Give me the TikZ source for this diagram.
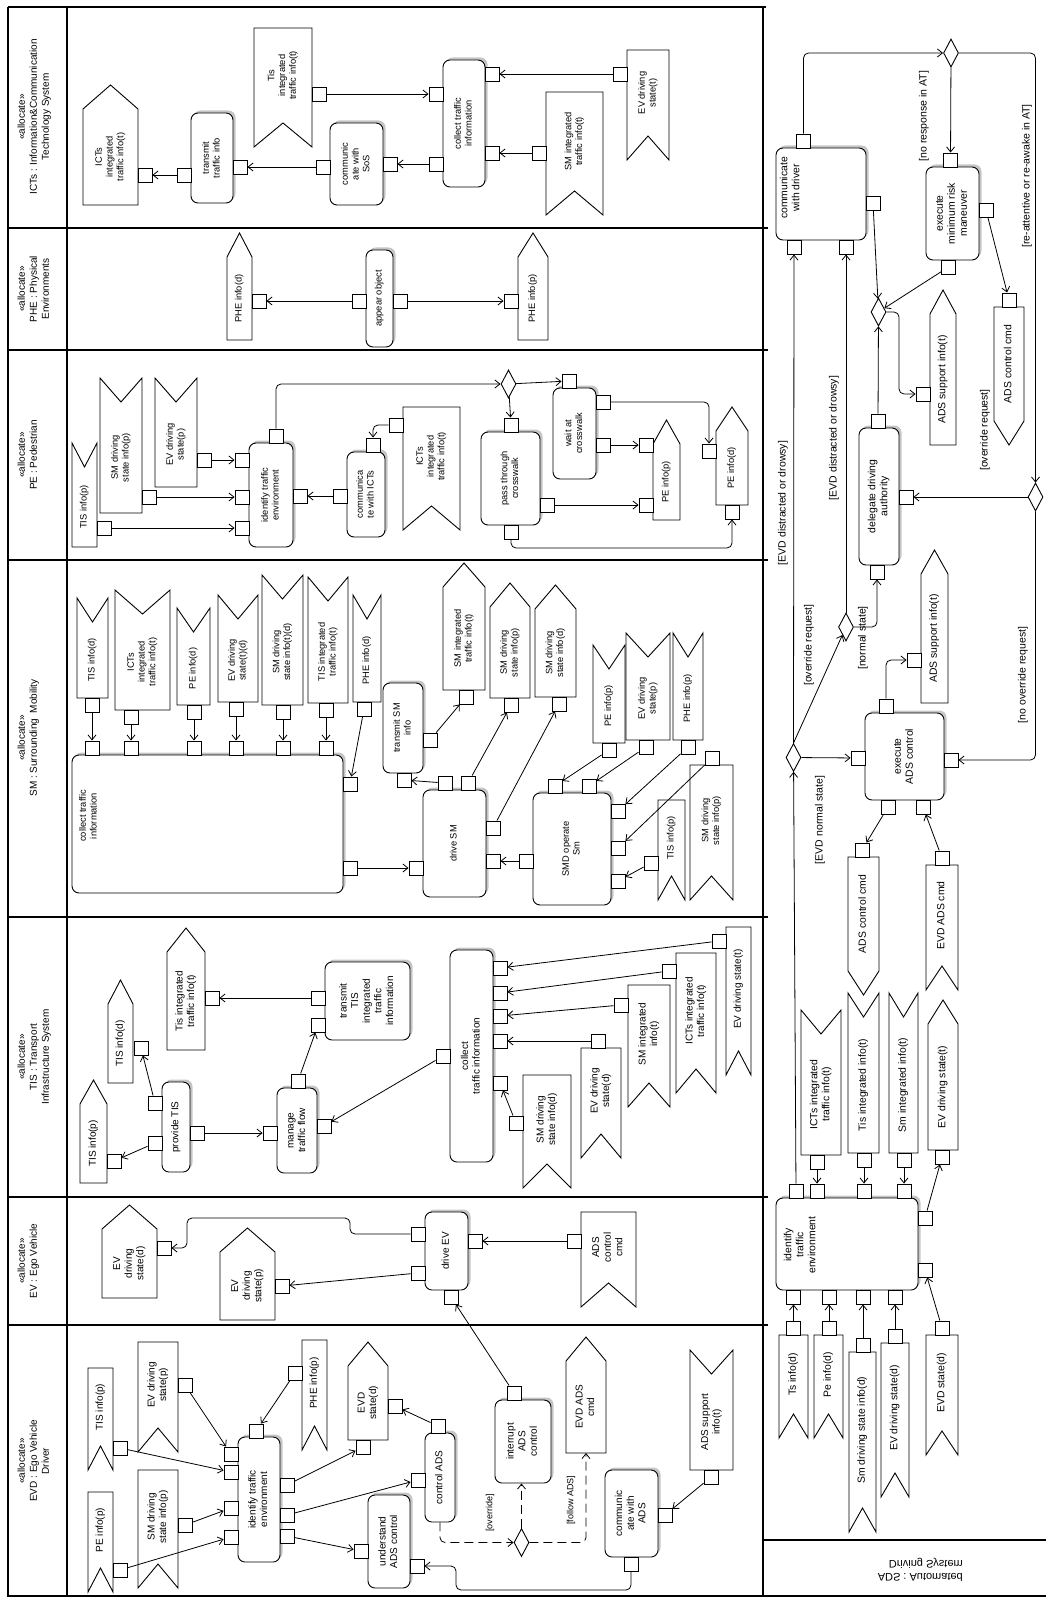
\documentclass[tikz,border=0pt]{standalone}
\usepackage{fontspec}
\setmainfont{Liberation Sans}
\usepackage{graphicx}
\usetikzlibrary{arrows.meta,shapes.geometric,shadows}

\newcommand\objd{24}
\newcommand\tf{\fontsize{9.3}{10.8}\selectfont}
\newcommand\rt[1]{\rotatebox{90}{\begin{tabular}{@{}c@{}}#1\end{tabular}}}
% object nodes: name, x1, y1, x2, y2, text
\newcommand\objPU[6]{%
  \draw[objline] (#2,#5) -- (#2,#3+\objd) -- ({(#2+#4)/2},#3) -- (#4,#3+\objd) -- (#4,#5) -- cycle;
  \node[otext] (#1) at ({(#2+#4)/2},{(#3+\objd+#5)/2}) {\rt{#6}};}
\newcommand\objPD[6]{%
  \draw[objline] (#2,#3) -- (#4,#3) -- (#4,#5-\objd) -- ({(#2+#4)/2},#5) -- (#2,#5-\objd) -- cycle;
  \node[otext] (#1) at ({(#2+#4)/2},{(#3+#5-\objd)/2}) {\rt{#6}};}
\newcommand\objND[6]{%
  \draw[objline] (#2,#3) -- (#4,#3) -- (#4,#5) -- ({(#2+#4)/2},#5-\objd) -- (#2,#5) -- cycle;
  \node[otext] (#1) at ({(#2+#4)/2},{(#3+#5-\objd)/2}) {\rt{#6}};}
\newcommand\objNU[6]{%
  \draw[objline] (#2,#3) -- ({(#2+#4)/2},#3+\objd) -- (#4,#3) -- (#4,#5) -- (#2,#5) -- cycle;
  \node[otext] (#1) at ({(#2+#4)/2},{(#3+\objd+#5)/2}) {\rt{#6}};}
% action: name, x1, y1, x2, y2, text
\newcommand\act[6]{%
  \node[actbox, minimum width={#4-#2}, minimum height={#5-#3}] (#1) at ({(#2+#4)/2},{(#3+#5)/2}) {\rt{#6}};}

\tikzset{
  lane/.style={line width=1.6pt},
  actbox/.style={draw, fill=white, rounded corners=7pt, line width=0.9pt, inner sep=1pt, font=\tf,
    drop shadow={shadow xshift=2.5pt, shadow yshift=2.5pt, fill=black!45, opacity=0.5}},
  objline/.style={draw, fill=white, line width=0.9pt},
  otext/.style={inner sep=0pt, font=\tf},
  pinbox/.style={draw, fill=white, line width=0.9pt, minimum size=14pt, inner sep=0pt},
  decision/.style={draw, fill=white, diamond, line width=0.9pt, minimum width=15pt, minimum height=28pt, inner sep=0pt},
  flow/.style={line width=0.8pt, -{Straight Barb[length=5pt,width=8pt]}},
  dflow/.style={flow, dash pattern=on 9pt off 5pt},
  guard/.style={rotate=90, font=\fontsize{10.5}{12.5}\selectfont, inner sep=1pt},
  lanehead/.style={rotate=90, anchor=north, align=center, font=\fontsize{10}{12}\selectfont},
}

\begin{document}
\begin{tikzpicture}[x=1pt,y=-1pt]
  \useasboundingbox (0,0) rectangle (1046,1597);
  % swimlanes
  \draw[lane] (8,7) -- (766,7);
  \draw[lane] (8,7) -- (8,1596) -- (1046,1596);
  \draw[lane] (67,7) -- (67,1596);
  \draw[lane] (763,7) -- (763,1596);
  \foreach \y in {228,350,560,917,1197,1325} \draw[lane] (8,\y) -- (768,\y);
  \draw[lane] (763,1540) -- (1046,1540);
  \node[lanehead] (hICT) at (14,117) {«allocate»\\ICTs : Information\&Communication\\Technology System};
  \node[lanehead] (hPHE) at (14,289) {«allocate»\\PHE : Physical\\Environments};
  \node[lanehead] (hPE) at (14,455) {«allocate»\\PE : Pedestrian};
  \node[lanehead] (hSM) at (14,738) {«allocate»\\SM : Surrounding\ \ Mobility};
  \node[lanehead] (hTIS) at (14,1057) {«allocate»\\TIS : Transport\\Infrastructure System};
  \node[lanehead] (hEV) at (14,1261) {«allocate»\\EV : Ego Vehicle};
  \node[lanehead] (hEVD) at (14,1461) {«allocate»\\EVD : Ego Vehicle\\Driver};
  \node[font=\fontsize{11}{13}\selectfont, anchor=east, inner sep=0pt] (hADS) at (963,1570)
    {\scalebox{1}[-1]{\begin{tabular}{@{}r@{}}ADS : Automated\\Driving System\end{tabular}}};

  % ICTs lane
  \objPU{ictsO}{83}{85}{138}{205}{ICTs\\integrated\\traffic info(t)}
  \act{ttiA}{191}{113}{233}{203}{transmit\\traffic info}
  \objND{tisO}{254}{28}{312}{147}{Tis\\integrated\\traffic info(t)}
  \act{cwsA}{330}{123}{383}{205}{communic\\ate with\\SoS}
  \act{ctiA}{443}{60}{485}{187}{collect traffic\\information}
  \objND{smiO}{546}{92}{603}{215}{SM integrated\\traffic info(t)}
  \objND{evtO}{627}{50}{669}{160}{EV driving\\state(t)}
  \node[pinbox] (ictsP) at (145,175) {};
  \node[pinbox] (ttiL) at (184,175) {};
  \node[pinbox] (ttiR) at (240,167) {};
  \node[pinbox] (tisP) at (319,94) {};
  \node[pinbox] (cwsL) at (323,167) {};
  \node[pinbox] (cwsR) at (390,164) {};
  \node[pinbox] (ctiL1) at (436,94) {};
  \node[pinbox] (ctiL2) at (436,164) {};
  \node[pinbox] (ctiR1) at (492,74) {};
  \node[pinbox] (ctiR2) at (492,153) {};
  \node[pinbox] (smiP) at (539,153) {};
  \node[pinbox] (evtP) at (620,74) {};
  \draw[flow] (ttiL) -- (ictsP);
  \draw[flow] (cwsL) -- (ttiR);
  \draw[flow] (tisP) -- (ctiL1);
  \draw[flow] (ctiL2) -- (cwsR);
  \draw[flow] (smiP) -- (ctiR2);
  \draw[flow] (evtP) -- (ctiR1);

  % PHE lane
  \objPU{phedO}{227}{233}{252}{340}{PHE info(d)}
  \act{apoA}{366}{250}{393}{347}{appear object}
  \objPU{phepO}{518}{233}{548}{340}{PHE info(p)}
  \node[pinbox] (phedP) at (259,301) {};
  \node[pinbox] (apoL) at (359,301) {};
  \node[pinbox] (apoR) at (400,301) {};
  \node[pinbox] (phepP) at (511,301) {};
  \draw[flow] (apoL) -- (phedP);
  \draw[flow] (apoR) -- (phepP);

  % PE lane
  \objNU{tispeO}{72}{443}{97}{547}{TIS info(p)}
  \objNU{smpeO}{100}{378}{142}{513}{SM driving\\state info(p)}
  \objNU{evpeO}{155}{378}{197}{487}{EV driving\\state(p)}
  \act{itepA}{249}{443}{293}{547}{identify traffic\\environment}
  \act{cwiA}{347}{452}{385}{537}{communica\\te with ICTs}
  \objND{ictpeO}{403}{407}{460}{530}{ICTs\\integrated\\traffic info(t)}
  \node[decision] (dPE) at (508.5,384) {};
  \act{ptcA}{481}{432}{540}{525}{pass through\\crosswalk}
  \act{wacA}{553}{388}{596}{479}{wait at\\crosswalk}
  \objPU{pepO}{653}{420}{680}{520}{PE info(p)}
  \objPU{pedO}{716}{407}{748}{505}{PE info(d)}
  \node[pinbox] (tispeP) at (104,528) {};
  \node[pinbox] (smpeP) at (149,497) {};
  \node[pinbox] (evpeP) at (204,460) {};
  \node[pinbox] (itepL1) at (242,460) {};
  \node[pinbox] (itepL2) at (242,497) {};
  \node[pinbox] (itepL3) at (242,528) {};
  \node[pinbox] (itepT) at (276,436) {};
  \node[pinbox] (itepR) at (300,496) {};
  \node[pinbox] (cwiL) at (340,496) {};
  \node[pinbox] (cwiT) at (373,445) {};
  \node[pinbox] (ictpeP) at (396,425) {};
  \node[pinbox] (ptcT) at (511,425) {};
  \node[pinbox] (ptcR) at (547,505) {};
  \node[pinbox] (ptcB) at (511,532) {};
  \node[pinbox] (wacT) at (569,381) {};
  \node[pinbox] (wacR1) at (603,402) {};
  \node[pinbox] (wacR2) at (603,445) {};
  \node[pinbox] (pepP1) at (646,445) {};
  \node[pinbox] (pepP2) at (646,505) {};
  \node[pinbox] (pedL) at (709,451) {};
  \node[pinbox] (pedB) at (732,512) {};
  \draw[flow] (tispeP) -- (itepL3);
  \draw[flow] (smpeP) -- (itepL2);
  \draw[flow] (evpeP) -- (itepL1);
  \draw[flow] (cwiL) -- (itepR);
  \draw[flow,rounded corners=5pt] (ictpeP) -| (cwiT);
  \draw[flow,rounded corners=5pt] (itepT) |- (dPE);
  \draw[flow] (dPE) -- (wacT);
  \draw[flow] (dPE) -- (ptcT);
  \draw[flow] (ptcR) -- (pepP2);
  \draw[flow] (wacR2) -- (pepP1);
  \draw[flow,rounded corners=5pt] (wacR1) -| (pedL);
  \draw[flow,rounded corners=5pt] (ptcB) -- ++(0,16) -| (pedB);

  % SM lane
  \act{csmA}{72}{755}{343}{893}{}
  \node[otext] (csmX) at (89,816) {\rt{collect traffic\\information}};
  \objNU{tisdsO}{77}{598}{108}{698}{TIS info(d)}
  \objNU{ictsmO}{115}{590}{170}{710}{ICTs\\integrated\\traffic info(t)}
  \objNU{pedsO}{177}{608}{210}{705}{PE info(d)}
  \objNU{evtdsO}{218}{595}{258}{702}{EV driving\\state(t)(d)}
  \objNU{smtdsO}{262}{575}{303}{705}{SM driving\\state info(t)(d)}
  \objNU{tisisO}{308}{577}{348}{703}{TIS integrated\\traffic info(t)}
  \objNU{phedsO}{353}{595}{381}{702}{PHE info(d)}
  \act{tsmA}{383}{683}{423}{773}{transmit SM\\info}
  \objPU{smitO}{443}{563}{485}{690}{SM integrated\\traffic info(t)}
  \objPU{smdpO}{490}{583}{530}{698}{SM driving\\state info(p)}
  \objPU{smddO}{535}{585}{576}{697}{SM driving\\state info(d)}
  \act{dsmA}{423}{790}{486}{897}{drive SM}
  \act{smdA}{533}{793}{611}{905}{SMD operate\\Sm}
  \objNU{pesO}{593}{645}{625}{743}{PE info(p)}
  \objNU{evpsO}{626}{633}{670}{740}{EV driving\\state(p)}
  \objNU{phpsO}{673}{633}{703}{740}{PHE info(p)}
  \objND{tispsO}{658}{800}{685}{900}{TIS info(p)}
  \objND{smpsO}{690}{765}{733}{900}{SM driving\\state info(p)}
  \node[pinbox] (tisdsP) at (92,705) {};
  \node[pinbox] (ictsmP) at (131,717) {};
  \node[pinbox] (pedsP) at (194,712) {};
  \node[pinbox] (evtdsP) at (236,709) {};
  \node[pinbox] (smtdsP) at (283,712) {};
  \node[pinbox] (tisisP) at (326,710) {};
  \node[pinbox] (phedsP) at (364,709) {};
  \node[pinbox] (csmT1) at (92,748) {};
  \node[pinbox] (csmT2) at (131,748) {};
  \node[pinbox] (csmT3) at (194,748) {};
  \node[pinbox] (csmT4) at (236,748) {};
  \node[pinbox] (csmT5) at (283,748) {};
  \node[pinbox] (csmT6) at (326,748) {};
  \node[pinbox] (csmR1) at (350,784) {};
  \node[pinbox] (csmR2) at (350,868) {};
  \node[pinbox] (tsmR) at (430,740) {};
  \node[pinbox] (tsmB) at (404,780) {};
  \node[pinbox] (smitP) at (466,697) {};
  \node[pinbox] (smdpP) at (511,705) {};
  \node[pinbox] (smddP) at (559,704) {};
  \node[pinbox] (dsmT1) at (445,783) {};
  \node[pinbox] (dsmT2) at (468,783) {};
  \node[pinbox] (dsmL) at (416,868) {};
  \node[pinbox] (dsmR1) at (493,828) {};
  \node[pinbox] (dsmR2) at (493,861) {};
  \node[pinbox] (smdL) at (526,861) {};
  \node[pinbox] (smdT1) at (555,786) {};
  \node[pinbox] (smdT2) at (589,786) {};
  \node[pinbox] (smdR1) at (618,811) {};
  \node[pinbox] (smdR2) at (618,848) {};
  \node[pinbox] (smdR3) at (618,881) {};
  \node[pinbox] (pesP) at (609,750) {};
  \node[pinbox] (evpsP) at (646,747) {};
  \node[pinbox] (phpsP) at (688,747) {};
  \node[pinbox] (tispsP) at (651,863) {};
  \node[pinbox] (smpsP) at (712,758) {};
  \draw[flow] (tisdsP) -- (csmT1);
  \draw[flow] (ictsmP) -- (csmT2);
  \draw[flow] (pedsP) -- (csmT3);
  \draw[flow] (evtdsP) -- (csmT4);
  \draw[flow] (smtdsP) -- (csmT5);
  \draw[flow] (tisisP) -- (csmT6);
  \draw[flow] (phedsP) -- (csmR1);
  \draw[flow] (csmR2) -- (dsmL);
  \draw[flow] (dsmT1) -- (tsmB);
  \draw[flow] (tsmR) -- (smitP);
  \draw[flow] (dsmT2) -- (smdpP);
  \draw[flow] (dsmR1) -- (smddP);
  \draw[flow] (smdL) -- (dsmR2);
  \draw[flow] (pesP) -- (smdT1);
  \draw[flow] (evpsP) -- (smdT2);
  \draw[flow] (phpsP) -- (smdR1);
  \draw[flow] (smpsP) -- (smdR2);
  \draw[flow] (tispsP) -- (smdR3);

  % TIS lane
  \renewcommand\tf{\fontsize{10}{11.6}\selectfont}
  \objPU{tispO}{80}{1080}{107}{1183}{TIS info(p)}
  \objPU{tisdO}{108}{980}{133}{1083}{TIS info(d)}
  \act{ptisA}{162}{1082}{190}{1172}{provide TIS}
  \objPU{tisiO}{167}{928}{205}{1050}{Tis integrated\\traffic info(t)}
  \act{mtfA}{277}{1088}{317}{1173}{manage\\traffic flow}
  \act{ttisA}{325}{962}{410}{1040}{transmit\\TIS\\integrated\\traffic\\information}
  \act{ctisA}{450}{950}{493}{1162}{collect\\traffic information}
  \objND{smdtO}{523}{1075}{571}{1188}{SM driving\\state info(d)}
  \objND{evdtO}{581}{1048}{621}{1158}{EV driving\\state(d)}
  \objND{smitT}{628}{985}{670}{1107}{SM integrated\\info(t)}
  \objND{icttO}{676}{953}{716}{1093}{ICTs integrated\\traffic info(t)}
  \objND{evttO}{726}{927}{751}{1075}{EV driving state(t)}
  \node[pinbox] (tispP) at (114,1161) {};
  \node[pinbox] (tisdP) at (141,1048) {};
  \node[pinbox] (ptisL1) at (155,1103) {};
  \node[pinbox] (ptisL2) at (155,1143) {};
  \node[pinbox] (ptisR) at (197,1133) {};
  \node[pinbox] (tisiP) at (212,998) {};
  \node[pinbox] (mtfL) at (270,1133) {};
  \node[pinbox] (mtfT) at (298,1081) {};
  \node[pinbox] (mtfR) at (324,1126) {};
  \node[pinbox] (ttisL1) at (318,998) {};
  \node[pinbox] (ttisL2) at (318,1025) {};
  \node[pinbox] (ctisL) at (443,1056) {};
  \node[pinbox] (ctisR1) at (500,968) {};
  \node[pinbox] (ctisR2) at (500,993) {};
  \node[pinbox] (ctisR3) at (500,1016) {};
  \node[pinbox] (ctisR4) at (500,1041) {};
  \node[pinbox] (ctisR5) at (500,1083) {};
  \node[pinbox] (smdtP) at (516,1123) {};
  \node[pinbox] (evdtP) at (598,1041) {};
  \node[pinbox] (smitTP) at (621,1005) {};
  \node[pinbox] (icttP) at (669,971) {};
  \node[pinbox] (evttP) at (719,941) {};
  \draw[flow] (ptisL2) -- (tispP);
  \draw[flow] (ptisL1) -- (tisdP);
  \draw[flow] (ptisR) -- (mtfL);
  \draw[flow] (ttisL1) -- (tisiP);
  \draw[flow] (mtfT) -- (ttisL2);
  \draw[flow] (ctisL) -- (mtfR);
  \draw[flow] (smdtP) -- (ctisR5);
  \draw[flow] (evdtP) -- (ctisR4);
  \draw[flow] (smitTP) -- (ctisR3);
  \draw[flow] (icttP) -- (ctisR2);
  \draw[flow] (evttP) -- (ctisR1);

  % EV lane
  \objPU{evdeO}{102}{1205}{157}{1298}{EV\\driving\\state(d)}
  \objPU{evpvO}{220}{1228}{275}{1320}{EV\\driving\\state(p)}
  \act{devA}{425}{1212}{468}{1290}{drive EV}
  \objND{adscO}{581}{1212}{636}{1307}{ADS\\control\\cmd}
  \node[pinbox] (evdeP) at (164,1248) {};
  \node[pinbox] (evpvP) at (282,1286) {};
  \node[pinbox] (devL1) at (418,1234) {};
  \node[pinbox] (devL2) at (418,1273) {};
  \node[pinbox] (devR) at (475,1241) {};
  \node[pinbox] (devB) at (451,1297) {};
  \node[pinbox] (adscP) at (574,1241) {};
  \draw[flow,rounded corners=5pt] (devL1) -| (350,1218) -| (187,1248) -- (evdeP);
  \draw[flow] (devL2) -- (evpvP);
  \draw[flow] (adscP) -- (devR);

  % EVD lane
  \objND{tispdO}{88}{1368}{113}{1470}{TIS info(p)}
  \objND{pepdO}{88}{1492}{113}{1592}{PE info(p)}
  \objND{evpdO}{138}{1342}{178}{1452}{EV driving\\state(p)}
  \objND{smpdO}{138}{1470}{178}{1588}{SM driving\\state info(p)}
  \objND{phpdO}{302}{1340}{327}{1450}{PHE info(p)}
  \act{itedA}{238}{1437}{280}{1562}{identify traffic\\environment}
  \objPU{evdsO}{348}{1342}{388}{1440}{EVD\\state(d)}
  \act{cadsA}{425}{1433}{455}{1522}{control ADS}
  \act{iacA}{495}{1400}{551}{1483}{interrupt\\ADS\\control}
  \objPU{evdcO}{566}{1337}{606}{1453}{EVD ADS\\cmd}
  \node[decision] (dEVD) at (521.5,1542.5) {};
  \act{uacA}{368}{1495}{410}{1588}{understand\\ADS control}
  \act{cwaA}{605}{1470}{658}{1557}{communic\\ate with\\ADS}
  \objNU{adsdO}{690}{1350}{733}{1470}{ADS support\\info(t)}
  \coordinate (evdcB) at (586,1453);
  \node[pinbox] (tispdP) at (120,1448) {};
  \node[pinbox] (pepdP) at (120,1570) {};
  \node[pinbox] (evpdP) at (185,1385) {};
  \node[pinbox] (smpdP) at (185,1525) {};
  \node[pinbox] (phpdP) at (295,1373) {};
  \node[pinbox] (itedL1) at (231,1454) {};
  \node[pinbox] (itedL2) at (231,1472) {};
  \node[pinbox] (itedL3) at (231,1508) {};
  \node[pinbox] (itedL4) at (231,1537) {};
  \node[pinbox] (itedT) at (256,1431) {};
  \node[pinbox] (itedR1) at (287,1485) {};
  \node[pinbox] (itedR2) at (287,1515) {};
  \node[pinbox] (itedR3) at (287,1536) {};
  \node[pinbox] (evdsR) at (395,1406) {};
  \node[pinbox] (evdsB) at (363,1447) {};
  \node[pinbox] (cadsT) at (438,1426) {};
  \node[pinbox] (cadsL) at (418,1480) {};
  \node[pinbox] (iacT) at (514,1393) {};
  \node[pinbox] (uacL) at (361,1551) {};
  \node[pinbox] (uacR) at (417,1566) {};
  \node[pinbox] (cwaB) at (631,1564) {};
  \node[pinbox] (cwaR) at (665,1515) {};
  \node[pinbox] (adsdP) at (711,1477) {};
  \draw[flow] (evpdP) -- (itedL1);
  \draw[flow] (tispdP) -- (itedL2);
  \draw[flow] (smpdP) -- (itedL3);
  \draw[flow] (pepdP) -- (itedL4);
  \draw[flow] (phpdP) -- (itedT);
  \draw[flow] (itedR1) -- (evdsB);
  \draw[flow] (itedR2) -- (cadsL);
  \draw[flow] (itedR3) -- (uacL);
  \draw[flow] (cadsT) -- (evdsR);
  \draw[flow] (iacT) -- (devB);
  \draw[flow] (adsdP) -- (cwaR);
  \draw[dflow,rounded corners=5pt] (cadsA.south) |- (dEVD);
  \draw[dflow] (dEVD.north) -- (dEVD.north |- iacA.south);
  \draw[dflow,rounded corners=5pt] (dEVD.east) -| (evdcB);
  \draw[flow,rounded corners=5pt] (cwaB) |- (456,1590) |- (uacR);
  \node[guard, font=\fontsize{9}{11}\selectfont] (gOv) at (490,1513) {[override]};
  \node[guard, font=\fontsize{9}{11}\selectfont] (gFa) at (571,1500) {[follow ADS]};

  % ADS lane
  \renewcommand\tf{\fontsize{10.4}{12}\selectfont}
  \act{cwdA}{776}{148}{866}{240}{}
  \node[otext] (cwdX) at (791,188) {\rt{communicate\\with driver}};
  \node[decision] (dA5) at (951,53) {};
  \act{emrA}{926}{167}{979}{260}{execute\\minimum risk\\maneuver}
  \node[decision] (dA3) at (878.5,312) {};
  \objPU{adsaO}{930}{290}{956}{445}{ADS support info(t)}
  \objPD{adscaO}{994}{307}{1024}{445}{ADS control cmd}
  \act{ddaA}{859}{428}{899}{565}{delegate driving\\authority}
  \node[decision] (dA4) at (1035.5,497) {};
  \node[decision] (dA2) at (846,627) {};
  \node[decision] (dA1) at (793.5,757.5) {};
  \act{eacA}{865}{713}{944}{800}{execute\\ADS control}
  \objPU{adsbO}{921}{550}{948}{703}{ADS support info(t)}
  \objPD{adscbO}{848}{857}{879}{995}{ADS control cmd}
  \objND{evdaO}{926}{865}{958}{990}{EVD ADS cmd}
  \objNU{ictaO}{801}{1010}{841}{1155}{ICTs integrated\\traffic info(t)}
  \objNU{tisaO}{848}{993}{879}{1153}{Tis integrated info(t)}
  \objNU{smaO}{889}{993}{918}{1153}{Sm integrated info(t)}
  \objPU{evtaO}{928}{1000}{958}{1150}{EV driving state(t)}
  \act{iteaA}{776}{1198}{918}{1290}{}
  \node[otext] (iteaX) at (801,1245) {\rt{identify\\traffic\\environment}};
  \objND{tsaO}{779}{1335}{808}{1438}{Ts info(d)}
  \objND{peaO}{814}{1335}{843}{1438}{Pe info(d)}
  \objND{smdaO}{849}{1352}{876}{1532}{Sm driving state info(d)}
  \objND{evsaO}{881}{1343}{909}{1497}{EV driving state(d)}
  \objND{evdsaO}{926}{1335}{958}{1455}{EVD state(d)}
  \node[pinbox] (cwdT) at (803.5,141) {};
  \node[pinbox] (cwdB1) at (794,247) {};
  \node[pinbox] (cwdB2) at (846,247) {};
  \node[pinbox] (cwdR) at (873,203) {};
  \node[pinbox] (emrT) at (950.5,160) {};
  \node[pinbox] (emrR) at (986,210) {};
  \node[pinbox] (emrB) at (948.5,267) {};
  \node[pinbox] (adsaP) at (923,394) {};
  \node[pinbox] (adscaP) at (1009,300) {};
  \node[pinbox] (ddaT) at (878,421) {};
  \node[pinbox] (ddaR) at (906,497) {};
  \node[pinbox] (ddaB) at (877,572) {};
  \node[pinbox] (eacT) at (886,706) {};
  \node[pinbox] (eacL) at (858,758) {};
  \node[pinbox] (eacR) at (951,760) {};
  \node[pinbox] (eacB1) at (888,807) {};
  \node[pinbox] (eacB2) at (923,807) {};
  \node[pinbox] (adsbP) at (914,660) {};
  \node[pinbox] (adscbP) at (862,850) {};
  \node[pinbox] (evdaP) at (942,858) {};
  \node[pinbox] (ictaP) at (817,1162) {};
  \node[pinbox] (tisaP) at (864,1160) {};
  \node[pinbox] (smaP) at (904,1160) {};
  \node[pinbox] (evtaP) at (942,1157) {};
  \node[pinbox] (iteaT1) at (796,1191) {};
  \node[pinbox] (iteaT2) at (817,1191) {};
  \node[pinbox] (iteaT3) at (864,1191) {};
  \node[pinbox] (iteaT4) at (904,1191) {};
  \node[pinbox] (iteaR1) at (925,1218) {};
  \node[pinbox] (iteaR2) at (925,1270) {};
  \node[pinbox] (iteaB1) at (793.5,1297) {};
  \node[pinbox] (iteaB2) at (829,1297) {};
  \node[pinbox] (iteaB3) at (863,1297) {};
  \node[pinbox] (iteaB4) at (895,1297) {};
  \node[pinbox] (tsaP) at (793.5,1328) {};
  \node[pinbox] (peaP) at (829,1328) {};
  \node[pinbox] (smdaP) at (863,1345) {};
  \node[pinbox] (evsaP) at (895,1336) {};
  \node[pinbox] (evdsaP) at (942,1328) {};
  \draw[flow,rounded corners=5pt] (cwdT) |- (dA5);
  \draw[flow] (dA5) -- (emrT);
  \draw[flow,rounded corners=5pt] (dA5) -| (dA4);
  \draw[flow] (dA4) -- (ddaR);
  \draw[flow,rounded corners=5pt] (dA4) |- (eacR);
  \draw[flow] (cwdR) -- (dA3);
  \draw[flow] (emrB) -- (dA3);
  \draw[flow] (ddaT) -- (dA3);
  \draw[flow,rounded corners=5pt] (dA3.east) -| (899,394) -- (adsaP);
  \draw[flow] (emrR) -- (adscaP);
  \draw[flow] (dA1.north) -- (cwdB1);
  \draw[flow] (dA1.north) -- (dA2);
  \draw[flow] (dA1) -- (eacL);
  \draw[flow] (iteaT1) -- (dA1);
  \draw[flow] (dA2) -- (cwdB2);
  \draw[flow,rounded corners=5pt] (dA2) -| (ddaB);
  \draw[flow,rounded corners=5pt] (eacT) |- (adsbP);
  \draw[flow] (eacB1) -- (adscbP);
  \draw[flow] (evdaP) -- (eacB2);
  \draw[flow] (ictaP) -- (iteaT2);
  \draw[flow] (tisaP) -- (iteaT3);
  \draw[flow] (smaP) -- (iteaT4);
  \draw[flow] (iteaR1) -- (evtaP);
  \draw[flow] (tsaP) -- (iteaB1);
  \draw[flow] (peaP) -- (iteaB2);
  \draw[flow] (smdaP) -- (iteaB3);
  \draw[flow] (evsaP) -- (iteaB4);
  \draw[flow] (evdsaP) -- (iteaR2);
  \node[guard] (gA1) at (924,116) {[no response in AT]};
  \node[guard] (gA2) at (1027,176) {[re-attentive or re-awake in AT]};
  \node[guard] (gA3) at (985,430) {[override request]};
  \node[guard] (gA4) at (1023,675) {[no override request]};
  \node[guard] (gA5) at (783,503) {[EVD distracted or drowsy]};
  \node[guard] (gA6) at (834,438) {[EVD distracted or drowsy]};
  \node[guard] (gA7) at (809,645) {[override request]};
  \node[guard] (gA8) at (863,638) {[normal state]};
  \node[guard] (gA9) at (820,820) {[EVD normal state]};
\end{tikzpicture}
\end{document}
